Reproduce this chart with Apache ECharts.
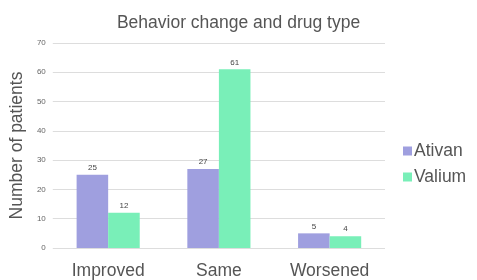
<!DOCTYPE html>
<html><head><meta charset="utf-8">
<script src="https://cdn.jsdelivr.net/npm/echarts@6/dist/echarts.min.js"></script>
<style>html,body{margin:0;padding:0;background:#fff}#c{width:477px;height:280px}</style>
</head><body><div id="c"></div>
<script>
const categories = ['Improved', 'Same', 'Worsened'];
const ativan = [25, 27, 5];
const valium = [12, 61, 4];
const seriesNames = ['Ativan', 'Valium'];
const chart = echarts.init(document.getElementById('c'));
const font = 'Arial, "Liberation Sans", sans-serif';
chart.setOption({
  animation: false,
  textStyle: { fontFamily: font },
  title: { text: 'Behavior change and drug type', left: 'center', top: 9,
    textStyle: { fontSize: 17.5, fontWeight: 'normal', color: '#555', fontFamily: font } },
  legend: { orient: 'vertical', left: 398, top: 137, itemWidth: 9, itemHeight: 9, itemGap: 8, icon: 'rect',
    textStyle: { fontSize: 17.5, lineHeight: 17, color: '#555', fontFamily: font, padding: [0,0,0,-3] } },
  grid: { left: 49, right: 92, top: 43, bottom: 31, containLabel: false },
  xAxis: { type: 'category', data: categories,
    axisLine: { show: false }, axisTick: { show: false },
    axisLabel: { fontSize: 17.5, color: '#555', margin: 14, fontFamily: font } },
  yAxis: { type: 'value', min: 0, max: 70, interval: 10,
    name: 'Number of patients', nameLocation: 'middle', nameGap: 20, nameRotate: 90,
    nameTextStyle: { fontSize: 17.5, color: '#555', fontFamily: font },
    axisLabel: { fontSize: 8, color: '#666', margin: 7, fontFamily: font },
    splitLine: { lineStyle: { color: '#ddd' } } },
  series: [
    { name: seriesNames[0], type: 'bar', data: ativan, barGap: 0, barCategoryGap: '43%',
      itemStyle: { color: '#9f9fdf' },
      label: { show: true, position: 'top', fontSize: 8, color: '#444', distance: 3 } },
    { name: seriesNames[1], type: 'bar', data: valium,
      itemStyle: { color: '#79efb8' },
      label: { show: true, position: 'top', fontSize: 8, color: '#444', distance: 3 } }
  ]
});
</script></body></html>
